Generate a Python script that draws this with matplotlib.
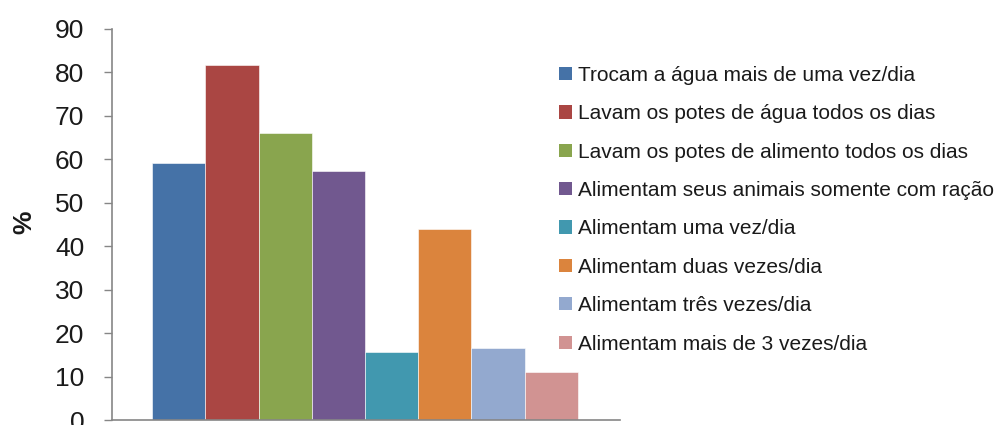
import matplotlib
matplotlib.use("Agg")
import matplotlib.pyplot as plt
from matplotlib.patches import Patch

plt.rcParams["font.family"] = ["Liberation Sans", "DejaVu Sans"]

CATEGORIES = [
    "Trocam a água mais de uma vez/dia",
    "Lavam os potes de água todos os dias",
    "Lavam os potes de alimento todos os dias",
    "Alimentam seus animais somente com ração",
    "Alimentam uma vez/dia",
    "Alimentam duas vezes/dia",
    "Alimentam três vezes/dia",
    "Alimentam mais de 3 vezes/dia",
]
PERCENT = [59.1, 81.7, 66.0, 57.2, 15.7, 43.9, 16.6, 11.1]
Y_TICKS = [0, 10, 20, 30, 40, 50, 60, 70, 80, 90]

COLORS = [
    "#4572A7",
    "#AA4643",
    "#89A54E",
    "#71588F",
    "#4198AF",
    "#DB843D",
    "#93A9CF",
    "#D19392",
]
AXIS_GRAY = "#868686"
TEXT = "#1A1A1A"

fig = plt.figure(figsize=(10, 4.25), dpi=100)
fig.patch.set_facecolor("white")
ax = fig.add_axes([0.112, 5 / 425, 0.508, 391 / 425])

positions = list(range(len(PERCENT)))
ax.bar(positions, PERCENT, width=1.0, color=COLORS, edgecolor="white", linewidth=0.4)

ax.set_xlim(-0.5 - 40 / 53.2, len(PERCENT) - 0.5 + 42 / 53.2)
ax.set_ylim(0, 90)
ax.set_yticks(Y_TICKS)
ax.set_xticks([])

for side in ["top", "right"]:
    ax.spines[side].set_visible(False)
for side in ["left", "bottom"]:
    ax.spines[side].set_color(AXIS_GRAY)
    ax.spines[side].set_linewidth(1.2)

ax.tick_params(axis="y", direction="out", length=6, width=1.0, color=AXIS_GRAY,
               labelsize=19, labelcolor=TEXT, pad=14)

ax.set_ylabel("%", fontsize=19, color=TEXT, fontweight="bold", va="center")
ax.yaxis.set_label_coords(-0.172, 0.506)

handles = [Patch(facecolor=c, edgecolor="none", label=lab) for c, lab in zip(COLORS, CATEGORIES)]
fig.legend(
    handles=handles,
    loc="upper left",
    bbox_to_anchor=(0.559, 0.845),
    frameon=False,
    fontsize=15,
    labelcolor=TEXT,
    handlelength=0.6,
    handleheight=0.6,
    handletextpad=0.3,
    labelspacing=0.93,
    borderpad=0,
    borderaxespad=0,
)

fig.savefig("out.png", dpi=100, facecolor="white")
